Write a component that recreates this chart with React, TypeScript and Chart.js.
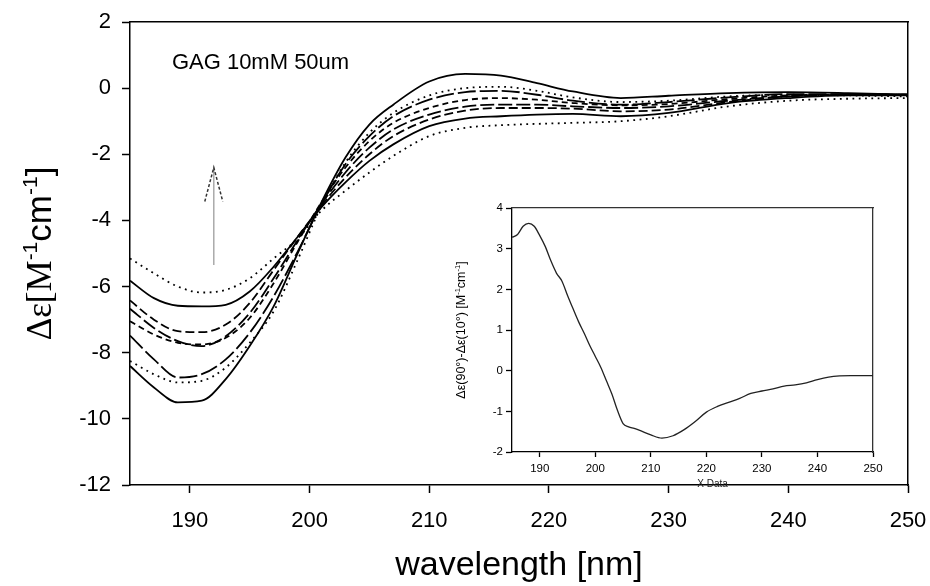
import React, { useEffect, useRef } from "react";
import { Chart, registerables } from "chart.js";

Chart.register(...registerables);

// ---------- data ----------
const wavelengths = [185, 187, 189, 191, 193, 195, 197, 199, 201, 203, 205, 207, 210, 213, 216, 219, 222, 226, 230, 235, 240, 245, 250];

const curveA = [-5.15, -5.6, -6.0, -6.18, -6.1, -5.75, -5.15, -4.55, -3.7, -3.1, -2.55, -2.05, -1.45, -1.2, -1.12, -1.08, -1.05, -1.0, -0.85, -0.55, -0.38, -0.32, -0.3];
const curveB = [-5.82, -6.35, -6.58, -6.6, -6.55, -6.15, -5.4, -4.5, -3.6, -2.85, -2.2, -1.7, -1.15, -0.92, -0.85, -0.8, -0.78, -0.85, -0.75, -0.45, -0.3, -0.22, -0.22];
const curveC = [-6.42, -7.0, -7.35, -7.38, -7.15, -6.5, -5.5, -4.5, -3.55, -2.7, -2.0, -1.45, -0.95, -0.68, -0.6, -0.6, -0.62, -0.7, -0.65, -0.42, -0.25, -0.2, -0.2];
const curveD = [-6.67, -7.25, -7.65, -7.8, -7.5, -6.8, -5.75, -4.6, -3.5, -2.55, -1.8, -1.25, -0.8, -0.56, -0.5, -0.5, -0.55, -0.6, -0.55, -0.38, -0.25, -0.2, -0.2];
const curveE = [-7.05, -7.45, -7.7, -7.75, -7.55, -6.95, -5.9, -4.65, -3.45, -2.4, -1.6, -1.05, -0.6, -0.36, -0.3, -0.35, -0.45, -0.52, -0.48, -0.33, -0.22, -0.2, -0.2];
const curveF = [-7.48, -8.2, -8.75, -8.65, -8.2, -7.4, -6.3, -4.95, -3.5, -2.3, -1.45, -0.85, -0.35, -0.12, -0.08, -0.2, -0.38, -0.5, -0.42, -0.28, -0.18, -0.18, -0.2];
const curveG = [-8.25, -8.65, -8.9, -8.85, -8.45, -7.7, -6.75, -5.2, -3.55, -2.25, -1.35, -0.75, -0.22, 0.0, 0.04, -0.08, -0.28, -0.42, -0.38, -0.25, -0.2, -0.22, -0.25];
const curveH = [-8.4, -9.05, -9.5, -9.45, -8.8, -7.8, -6.6, -5.0, -3.45, -2.1, -1.1, -0.5, 0.2, 0.43, 0.38, 0.15, -0.1, -0.3, -0.23, -0.15, -0.12, -0.15, -0.2];

const mainSeries = [curveA, curveB, curveC, curveD, curveE, curveF, curveG, curveH];

const xTicksMain = [190, 200, 210, 220, 230, 240, 250];
const yTicksMain = [-12, -10, -8, -6, -4, -2, 0, 2];

const insetWavelengths = [185, 186, 187, 188, 189, 190, 191, 192, 193, 194, 195, 196, 197, 198, 199, 200, 201, 202, 203, 204, 205, 206, 207, 208, 210, 212, 214, 216, 218, 220, 222, 224, 226, 228, 230, 232, 234, 236, 238, 240, 242, 244, 246, 248, 250];
const insetDiff = [3.28, 3.35, 3.55, 3.62, 3.55, 3.32, 3.05, 2.7, 2.4, 2.2, 1.85, 1.52, 1.2, 0.92, 0.62, 0.35, 0.08, -0.25, -0.58, -0.98, -1.3, -1.38, -1.42, -1.47, -1.58, -1.66, -1.6, -1.45, -1.25, -1.02, -0.88, -0.78, -0.68, -0.56, -0.5, -0.45, -0.38, -0.35, -0.3, -0.22, -0.16, -0.13, -0.12, -0.12, -0.12];
const xTicksInset = [190, 200, 210, 220, 230, 240, 250];
const yTicksInset = [-2, -1, 0, 1, 2, 3, 4];

const annotationText = "GAG 10mM 50um";
const annotationPos = { x: 188.5, y: 0.76 };
const arrowAt = { x: 192, from: -5.35, to: -2.4 };

// ---------- styles ----------
const SANS = "'Liberation Sans', Arial, Helvetica, sans-serif";
const SERIF = "'Liberation Serif', 'Times New Roman', serif";
const dashes: number[][] = [[1.8, 4.5], [], [9, 4], [14, 4], [6, 4], [18, 4], [1.8, 4.5], []];

const fix = (w?: number, h?: number) => (s: any) => {
  if (w !== undefined) s.width = w;
  if (h !== undefined) s.height = h;
  s.paddingLeft = 0;
  s.paddingRight = 0;
  s.paddingTop = 0;
  s.paddingBottom = 0;
};
const setTicks = (vals: number[]) => (s: any) => {
  s.ticks = vals.map((v) => ({ value: v }));
};

type Part = { t: string; sup?: boolean; serif?: boolean };
function drawRich(ctx: CanvasRenderingContext2D, parts: Part[], cx: number, cy: number, size: number, rotate: boolean) {
  ctx.save();
  ctx.translate(cx, cy);
  if (rotate) ctx.rotate(-Math.PI / 2);
  const supSize = size * 0.6;
  const fontOf = (p: Part) => `${p.sup ? supSize : size}px ${p.serif ? SERIF : SANS}`;
  let total = 0;
  const widths = parts.map((p) => {
    ctx.font = fontOf(p);
    const w = ctx.measureText(p.t).width;
    total += w;
    return w;
  });
  let x = -total / 2;
  ctx.textAlign = "left";
  ctx.textBaseline = "alphabetic";
  ctx.fillStyle = "#000";
  const base = size * 0.36;
  parts.forEach((p, i) => {
    ctx.font = fontOf(p);
    ctx.fillText(p.t, x, base - (p.sup ? size * 0.4 : 0));
    x += widths[i];
  });
  ctx.restore();
}

const mainDecor = {
  id: "mainDecor",
  afterDraw(chart: any) {
    const { ctx, chartArea, scales } = chart;
    const xs = scales.x;
    const ys = scales.y;
    // y title
    drawRich(
      ctx,
      [
        { t: "Δε[M", serif: true },
        { t: "-1", sup: true },
        { t: "cm" },
        { t: "-1", sup: true },
        { t: "]" },
      ],
      38,
      (chartArea.top + chartArea.bottom) / 2,
      35,
      true
    );
    // x title
    ctx.save();
    ctx.font = `34px ${SANS}`;
    ctx.fillStyle = "#000";
    ctx.textAlign = "center";
    ctx.textBaseline = "middle";
    ctx.fillText("wavelength [nm]", (chartArea.left + chartArea.right) / 2, 566);
    // annotation
    ctx.font = `22px ${SANS}`;
    ctx.textAlign = "left";
    ctx.fillText(annotationText, xs.getPixelForValue(annotationPos.x), ys.getPixelForValue(annotationPos.y));
    // arrow
    const ax = xs.getPixelForValue(arrowAt.x);
    const y0 = ys.getPixelForValue(arrowAt.from);
    const y1 = ys.getPixelForValue(arrowAt.to);
    ctx.strokeStyle = "#aaa";
    ctx.lineWidth = 1.5;
    ctx.beginPath();
    ctx.moveTo(ax, y0);
    ctx.lineTo(ax, y1);
    ctx.stroke();
    ctx.strokeStyle = "#333";
    ctx.setLineDash([3, 2]);
    ctx.beginPath();
    ctx.moveTo(ax - 9, y1 + 34);
    ctx.lineTo(ax, y1);
    ctx.lineTo(ax + 9, y1 + 34);
    ctx.stroke();
    ctx.restore();
  },
};

const insetDecor = {
  id: "insetDecor",
  afterDraw(chart: any) {
    const { ctx, chartArea } = chart;
    drawRich(
      ctx,
      [
        { t: "Δε(90°)-Δε(10°) [M" },
        { t: "-1", sup: true },
        { t: "cm" },
        { t: "-1", sup: true },
        { t: "]" },
      ],
      chartArea.left - 52,
      (chartArea.top + chartArea.bottom) / 2,
      12.5,
      true
    );
    ctx.save();
    ctx.font = `10px ${SANS}`;
    ctx.fillStyle = "#222";
    ctx.textAlign = "center";
    ctx.textBaseline = "middle";
    ctx.fillText("X Data", (chartArea.left + chartArea.right) / 2 + 20, chartArea.bottom + 32);
    ctx.restore();
  },
};

function axisCommon(size: number, tickLen: number, pad: number, bw: number) {
  return {
    ticks: { font: { family: SANS, size }, color: "#000", padding: pad, maxRotation: 0, autoSkip: false },
    grid: { display: true, drawOnChartArea: false, drawTicks: true, tickLength: tickLen, tickColor: "#000", tickWidth: bw },
    border: { display: true, color: "#000", width: bw },
  };
}
function frameAxis(bw: number, color: string) {
  return {
    ticks: { display: false },
    grid: { display: false },
    border: { display: true, color, width: bw },
  };
}

export default function App() {
  const mainRef = useRef<HTMLCanvasElement>(null);
  const insetRef = useRef<HTMLCanvasElement>(null);

  useEffect(() => {
    const main = new Chart(mainRef.current!, {
      type: "line",
      data: {
        datasets: mainSeries.map((s, i) => ({
          data: wavelengths.map((w, j) => ({ x: w, y: s[j] })),
          borderColor: "#000",
          borderWidth: 1.8,
          borderDash: dashes[i],
          pointRadius: 0,
          fill: false,
          cubicInterpolationMode: "monotone" as const,
        })),
      },
      options: {
        responsive: false,
        animation: false,
        events: [],
        layout: { padding: 0, autoPadding: false },
        plugins: { legend: { display: false }, tooltip: { enabled: false }, title: { display: false } },
        scales: {
          x: { type: "linear", position: "bottom", min: 185, max: 250, afterBuildTicks: setTicks(xTicksMain), afterFit: fix(undefined, 101), ...axisCommon(22, 8, 15, 1.5) },
          y: { type: "linear", position: "left", min: -12, max: 2, afterBuildTicks: setTicks(yTicksMain), afterFit: fix(130), ...axisCommon(22, 8, 11, 1.5) },
          xT: { type: "linear", position: "top", min: 185, max: 250, afterFit: fix(undefined, 22), ...frameAxis(1.5, "#000") },
          yR: { type: "linear", position: "right", min: -12, max: 2, afterFit: fix(22), ...frameAxis(1.5, "#000") },
        } as any,
      },
      plugins: [mainDecor],
    });

    const inset = new Chart(insetRef.current!, {
      type: "line",
      data: {
        datasets: [
          {
            data: insetWavelengths.map((w, j) => ({ x: w, y: insetDiff[j] })),
            borderColor: "#222",
            borderWidth: 1.3,
            pointRadius: 0,
            fill: false,
            cubicInterpolationMode: "monotone" as const,
          },
        ],
      },
      options: {
        responsive: false,
        animation: false,
        events: [],
        layout: { padding: 0, autoPadding: false },
        plugins: { legend: { display: false }, tooltip: { enabled: false }, title: { display: false } },
        scales: {
          x: { type: "linear", position: "bottom", min: 185, max: 250, afterBuildTicks: setTicks(xTicksInset), afterFit: fix(undefined, 38), ...axisCommon(11.5, 5, 5, 1.3) },
          y: { type: "linear", position: "left", min: -2, max: 4, afterBuildTicks: setTicks(yTicksInset), afterFit: fix(92), ...axisCommon(11.5, 6, 3, 1.3) },
          xT: { type: "linear", position: "top", min: 185, max: 250, afterFit: fix(undefined, 18), ...frameAxis(1.3, "#333") },
          yR: { type: "linear", position: "right", min: -2, max: 4, afterFit: fix(17), ...frameAxis(1.3, "#333") },
        } as any,
      },
      plugins: [insetDecor],
    });

    return () => {
      main.destroy();
      inset.destroy();
    };
  }, []);

  return (
    <div style={{ position: "absolute", left: 0, top: 0, width: 930, height: 586, background: "#fff" }}>
      <canvas ref={mainRef} width={930} height={586} style={{ position: "absolute", left: 0, top: 0, width: 930, height: 586 }} />
      <canvas ref={insetRef} width={470} height={300} style={{ position: "absolute", left: 420, top: 190, width: 470, height: 300 }} />
    </div>
  );
}
